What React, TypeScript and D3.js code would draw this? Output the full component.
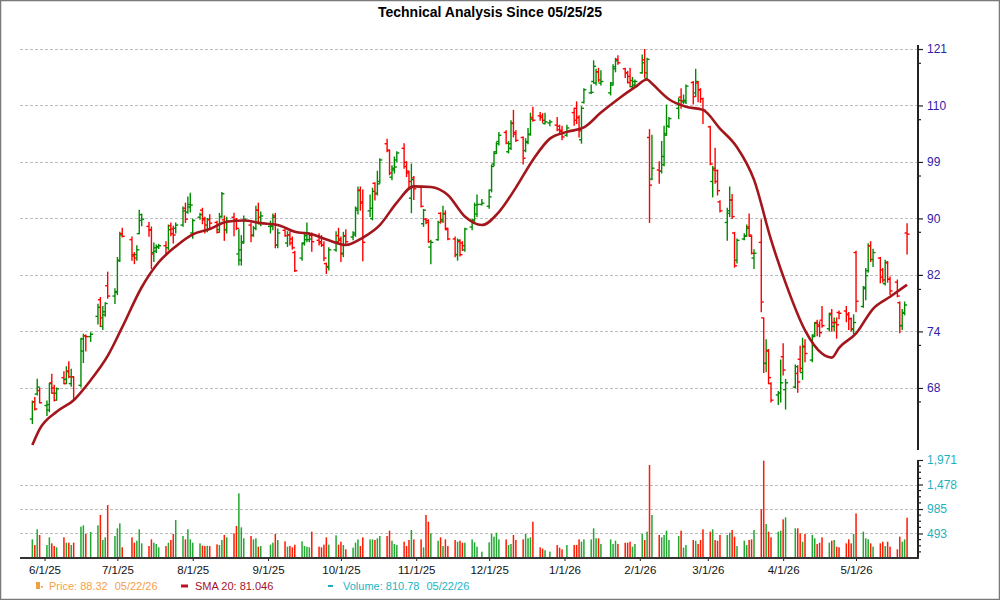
import { useEffect, useRef } from "react";
import * as d3 from "d3";

// trading calendar
const FIRST_DAY = "2025-05-27";
const LAST_DAY = "2026-05-22";
const HOLIDAYS = ["2025-06-19", "2025-07-04", "2025-09-01", "2025-11-27", "2025-12-25", "2026-01-01", "2026-01-19", "2026-02-16", "2026-04-03"];

// one line per week
const OPEN = [
  64.5, 66.4, 67.3, 67.7,
  66.0, 65.5, 68.6, 68.0, 67.4,
  69.2, 69.0, 70.0, 68.5, 69.3,
  68.3, 72.4, 74.3, 74.2,
  76.8, 79.0, 75.5, 77.0, 80.9,
  79.5, 80.0, 84.4, 88.4,
  87.5, 85.3, 85.3, 88.4, 90.4,
  89.5, 88.9, 85.6, 85.8, 86.4,
  86.6, 86.3, 89.6, 89.1, 89.2,
  89.7, 92.3, 91.7, 92.5, 88.5,
  90.9, 92.0, 90.7, 89.0, 90.5,
  90.1, 89.0, 91.0, 90.5, 89.0,
  90.9, 90.5, 85.4, 84.5, 87.2,
  89.7, 88.2, 89.2, 92.0, 89.9,
  89.5, 89.5, 91.1, 86.7,
  88.9, 87.0, 88.2, 87.6, 85.6,
  84.8, 87.0, 87.5, 87.5, 88.1,
  87.4, 87.2, 86.7, 84.0, 83.5,
  86.0, 88.1, 87.6, 85.5, 88.1,
  87.9, 88.2, 92.3, 95.2, 93.3,
  91.9, 90.7, 96.3, 94.7, 96.6,
  103.0, 101.8, 97.3, 98.5, 100.2,
  102.2, 99.8, 98.0, 93.9, 97.2,
  95.7, 89.9, 90.6, 90.4, 86.4,
  87.5, 91.5, 90.5, 91.5, 89.0,
  87.6, 85.3, 87.2, 87.0, 86.0,
  89.4, 90.5, 91.4, 92.9,
  92.6, 95.2, 99.5, 101.6, 103.4,
  105.0, 101.6, 102.2, 106.7, 105.0,
  104.1, 101.8, 103.2, 104.6, 107.7,
  108.0, 108.0, 106.6, 106.7,
  106.3, 106.1, 105.4, 104.5,
  108.6, 109.4, 107.7, 103.7, 110.5,
  112.3, 114.5, 114.2, 116.4, 114.2,
  112.3, 114.2, 117.0, 118.9,
  117.0, 116.2, 115.5, 113.5, 113.8,
  116.2, 118.8, 115.1, 104.1, 97.0,
  98.5, 98.3, 99.4, 104.8, 106.1,
  109.4, 111.5, 110.6, 110.6,
  114.3, 112.3, 114.2, 112.9, 111.2,
  106.0, 96.6, 98.5, 98.4, 93.3,
  90.1, 91.5, 93.6, 88.5, 84.5,
  87.6, 88.1, 89.4, 88.0, 84.8,
  87.1, 76.6, 70.9, 72.4, 68.5,
  67.2, 67.4, 71.7, 67.8,
  68.1, 69.7, 71.4, 69.8, 73.0,
  71.3, 74.4, 76.0, 75.7, 76.3,
  75.2, 77.2, 75.5, 76.0, 77.3,
  77.5, 77.1, 76.5, 75.1, 85.6,
  78.1, 80.5, 83.0, 86.6, 84.6,
  84.8, 83.1, 81.2, 84.1, 81.8,
  81.4, 78.6, 75.6, 77.2, 88.5,
];

const HIGH = [
  66.5, 66.9, 69.0, 68.0,
  66.5, 68.5, 69.6, 68.3, 68.0,
  69.9, 70.5, 71.1, 70.2, 69.3,
  74.0, 74.5, 74.4, 74.7,
  78.4, 79.3, 78.1, 78.6, 82.8,
  80.5, 84.9, 88.6, 89.2,
  87.9, 85.6, 86.6, 92.0, 91.4,
  90.1, 89.4, 87.0, 86.7, 86.8,
  87.2, 89.7, 90.0, 89.5, 90.0,
  92.5, 93.1, 94.1, 94.7, 90.6,
  91.5, 92.3, 90.9, 90.7, 91.3,
  90.3, 91.5, 94.8, 91.1, 90.9,
  91.5, 90.7, 89.0, 88.1, 91.1,
  90.0, 89.5, 92.6, 93.1, 91.7,
  90.3, 91.4, 91.5, 89.1,
  89.0, 88.7, 88.7, 87.9, 85.8,
  87.0, 88.6, 90.0, 88.5, 88.5,
  88.4, 88.1, 87.2, 84.1, 86.3,
  88.7, 89.2, 87.9, 88.6, 89.0,
  88.7, 92.5, 95.7, 95.7, 95.2,
  94.4, 95.5, 96.4, 98.3, 100.4,
  103.8, 101.9, 99.2, 100.7, 101.6,
  103.0, 99.9, 98.3, 99.5, 97.4,
  95.8, 92.1, 90.7, 90.5, 87.4,
  90.3, 91.6, 92.6, 91.9, 89.2,
  87.9, 87.6, 87.5, 87.2, 89.2,
  90.5, 93.1, 94.4, 93.7,
  95.2, 99.3, 101.6, 103.2, 105.0,
  105.3, 103.4, 107.1, 109.0, 105.3,
  104.2, 103.9, 105.7, 108.5, 109.6,
  108.6, 108.4, 108.5, 107.2,
  107.7, 106.3, 106.1, 106.3,
  109.4, 110.6, 108.0, 109.7, 113.1,
  113.8, 118.6, 116.9, 117.1, 116.6,
  114.3, 117.8, 119.1, 119.6,
  117.1, 116.5, 117.1, 115.3, 114.8,
  119.8, 120.9, 119.1, 105.5, 104.5,
  99.9, 103.4, 106.1, 110.0, 107.7,
  111.3, 113.1, 111.9, 113.8,
  114.5, 116.9, 114.5, 113.1, 111.3,
  106.1, 99.1, 102.2, 98.5, 93.5,
  92.3, 95.7, 94.5, 88.6, 87.6,
  88.4, 89.7, 91.4, 88.1, 86.0,
  90.5, 76.6, 73.8, 72.6, 68.6,
  67.6, 71.3, 73.3, 69.0,
  70.7, 70.6, 73.0, 74.0, 73.8,
  74.4, 76.0, 76.3, 76.1, 78.1,
  77.2, 77.7, 76.6, 76.6, 77.5,
  78.1, 77.3, 76.6, 77.0, 85.8,
  80.8, 83.3, 86.9, 87.2, 86.1,
  84.9, 83.3, 84.5, 84.3, 82.1,
  81.7, 78.7, 77.7, 78.7, 89.9,
];

const LOW = [
  64.0, 65.5, 67.2, 66.3,
  64.9, 65.3, 67.4, 66.5, 66.6,
  68.5, 68.5, 69.2, 68.2, 66.6,
  68.1, 71.0, 72.4, 73.6,
  75.8, 75.5, 75.1, 76.8, 79.2,
  78.5, 79.7, 84.3, 87.9,
  84.5, 84.0, 84.5, 88.4, 89.6,
  88.0, 83.3, 84.3, 85.6, 86.2,
  85.4, 86.0, 88.1, 87.0, 88.5,
  89.5, 90.1, 91.5, 91.7, 87.7,
  90.6, 89.9, 88.5, 88.7, 89.1,
  88.5, 88.6, 90.9, 87.4, 88.5,
  88.1, 89.0, 83.8, 83.8, 87.0,
  87.2, 88.0, 89.0, 89.9, 89.6,
  88.5, 89.0, 86.3, 86.3,
  88.0, 86.5, 86.7, 86.1, 82.9,
  84.5, 86.7, 87.2, 87.2, 85.8,
  86.7, 86.5, 84.4, 82.6, 83.1,
  85.8, 87.0, 84.3, 85.0, 86.7,
  87.5, 88.0, 91.4, 92.0, 84.4,
  91.0, 90.5, 93.6, 94.4, 96.3,
  101.6, 97.7, 96.9, 98.0, 99.9,
  98.8, 97.4, 95.7, 91.6, 93.7,
  92.5, 89.5, 89.9, 87.1, 84.0,
  87.4, 90.0, 90.1, 89.0, 87.5,
  85.0, 84.5, 85.1, 85.9, 85.8,
  89.0, 90.3, 91.0, 92.8,
  92.3, 94.9, 99.2, 101.3, 102.8,
  103.0, 101.4, 102.0, 104.2, 103.4,
  99.5, 101.6, 103.0, 104.5, 107.0,
  107.2, 106.8, 106.5, 106.2,
  105.3, 104.7, 103.7, 104.3,
  106.3, 106.6, 104.2, 103.1, 110.4,
  112.2, 114.2, 113.8, 114.5, 113.8,
  111.9, 113.8, 116.4, 117.9,
  115.3, 114.2, 113.5, 113.2, 113.5,
  116.1, 115.3, 114.9, 90.1, 96.9,
  96.3, 98.0, 99.2, 104.5, 105.9,
  107.5, 109.4, 110.3, 110.3,
  110.2, 111.6, 110.6, 110.5, 106.6,
  99.4, 94.1, 96.3, 94.4, 91.7,
  87.4, 91.0, 90.7, 83.5, 84.1,
  87.5, 88.0, 88.0, 85.4, 83.3,
  77.4, 69.8, 69.9, 68.5, 66.4,
  66.1, 66.4, 69.5, 65.6,
  68.0, 67.5, 69.9, 69.0, 71.1,
  71.1, 74.2, 74.3, 74.2, 75.4,
  74.9, 74.9, 74.9, 74.0, 76.5,
  76.1, 75.1, 74.9, 74.6, 77.4,
  78.0, 79.0, 82.8, 84.3, 83.6,
  81.3, 81.4, 81.0, 81.4, 79.7,
  79.4, 74.7, 75.1, 77.0, 85.4,
];

const CLOSE = [
  66.4, 65.6, 68.1, 66.3,
  66.1, 68.5, 67.4, 66.6, 67.9,
  68.5, 69.9, 69.3, 69.3, 66.7,
  73.9, 74.3, 74.2, 74.5,
  78.0, 76.6, 77.4, 78.5, 79.5,
  80.1, 84.5, 88.2, 88.0,
  85.1, 84.8, 86.0, 91.3, 90.6,
  89.0, 85.4, 86.3, 86.5, 86.6,
  85.5, 89.0, 88.4, 88.2, 89.7,
  91.9, 90.6, 92.9, 92.8, 90.4,
  91.3, 90.5, 89.7, 90.6, 90.0,
  88.6, 91.0, 94.6, 89.0, 90.3,
  90.3, 89.2, 86.0, 87.0, 90.6,
  88.1, 89.2, 92.0, 90.9, 91.1,
  89.7, 90.9, 86.7, 88.5,
  88.1, 88.2, 87.0, 86.3, 83.0,
  86.9, 88.1, 88.5, 87.6, 87.2,
  87.0, 86.7, 84.8, 83.6, 86.0,
  87.2, 87.4, 85.4, 88.0, 87.2,
  88.5, 92.0, 95.1, 93.1, 87.1,
  92.3, 95.0, 94.6, 96.2, 100.2,
  101.9, 98.0, 98.8, 99.0, 101.4,
  99.1, 98.3, 96.6, 96.9, 95.4,
  92.6, 92.0, 90.1, 87.2, 87.1,
  90.1, 90.3, 91.4, 89.2, 87.6,
  85.3, 87.4, 85.3, 86.6, 89.1,
  90.3, 92.8, 92.9, 93.1,
  94.1, 99.1, 101.3, 103.0, 104.5,
  103.1, 103.0, 106.6, 104.7, 103.6,
  100.5, 103.4, 104.7, 107.4, 107.2,
  107.7, 107.2, 106.9, 106.9,
  105.5, 105.2, 104.2, 105.8,
  107.2, 107.7, 105.3, 109.4, 112.9,
  112.4, 117.5, 116.4, 114.8, 114.5,
  113.8, 117.4, 118.6, 118.2,
  116.2, 114.3, 114.7, 114.5, 114.5,
  118.2, 116.2, 118.9, 96.0, 98.8,
  98.3, 100.8, 104.5, 106.1, 107.5,
  110.9, 110.8, 110.9, 113.6,
  111.6, 114.5, 112.9, 111.2, 109.1,
  99.5, 98.8, 96.6, 95.1, 91.9,
  91.9, 93.6, 91.0, 83.7, 87.4,
  88.0, 89.2, 88.2, 85.5, 85.5,
  78.7, 70.9, 72.5, 69.2, 66.6,
  67.4, 68.6, 70.1, 68.6,
  70.5, 68.7, 70.3, 72.9, 72.1,
  74.2, 75.9, 75.5, 74.7, 75.6,
  77.0, 76.0, 76.0, 75.7, 77.2,
  77.0, 76.5, 75.2, 76.0, 78.8,
  80.7, 82.3, 86.6, 84.6, 85.6,
  82.1, 81.7, 84.2, 81.8, 80.2,
  79.5, 75.6, 77.3, 78.3, 88.32,
];

const VOLUME = [
  375, 261, 577, 463,
  261, 416, 295, 241, 215,
  416, 308, 308, 261, 308,
  630, 657, 483, 523,
  657, 865, 362, 416, 1066,
  442, 597, 697, 215,
  416, 308, 348, 577, 295,
  241, 375, 308, 282, 215,
  241, 308, 362, 483, 764,
  442, 375, 577, 375, 308,
  295, 250, 241, 245, 240,
  275, 261, 362, 463, 416,
  496, 643, 1300, 617, 396,
  442, 375, 396, 228, 241,
  268, 308, 483, 362,
  335, 228, 241, 215, 268,
  335, 241, 228, 215, 529,
  228, 215, 268, 416, 268,
  456, 268, 328, 261, 175,
  208, 308, 375, 241, 416,
  375, 375, 362, 396, 442,
  442, 550, 348, 282, 261,
  328, 241, 362, 563, 375,
  375, 215, 865, 730, 496,
  348, 416, 241, 375, 241,
  362, 328, 348, 308, 308,
  375, 315, 228, 128,
  315, 483, 429, 509, 375,
  375, 261, 282, 463, 362,
  375, 483, 396, 416, 730,
  215, 188, 154, 128,
  261, 208, 175, 261,
  261, 261, 375, 328, 375,
  375, 597, 396, 396, 282,
  375, 282, 348, 282,
  308, 308, 328, 228, 282,
  483, 362, 530, 1870, 865,
  463, 416, 463, 550, 362,
  442, 550, 208, 261,
  362, 348, 282, 362, 577,
  530, 577, 362, 348, 463,
  463, 509, 563, 429, 241,
  348, 261, 362, 375, 563,
  979, 1957, 684, 530, 416,
  530, 550, 777, 818,
  597, 597, 496, 328, 483,
  463, 396, 282, 308, 416,
  308, 348, 362, 228, 215,
  295, 375, 295, 483, 898,
  530, 396, 375, 295, 228,
  295, 328, 241, 328, 228,
  175, 429, 328, 375, 810.78,
];

// SMA 20, roughly weekly
const SMA_DATES = [
  "2025-05-27", "2025-05-30", "2025-06-06", "2025-06-13", "2025-06-20", "2025-06-27", "2025-07-03", "2025-07-11",
  "2025-07-18", "2025-07-25", "2025-08-01", "2025-08-08", "2025-08-15", "2025-08-22", "2025-08-29", "2025-09-05",
  "2025-09-12", "2025-09-19", "2025-09-26", "2025-10-03", "2025-10-10", "2025-10-17", "2025-10-24", "2025-10-31",
  "2025-11-07", "2025-11-14", "2025-11-21", "2025-11-28", "2025-12-05", "2025-12-12", "2025-12-19", "2025-12-26",
  "2026-01-02", "2026-01-09", "2026-01-16", "2026-01-23", "2026-01-30", "2026-02-04", "2026-02-06", "2026-02-13",
  "2026-02-20", "2026-02-27", "2026-03-06", "2026-03-13", "2026-03-20", "2026-03-27", "2026-04-02", "2026-04-10",
  "2026-04-17", "2026-04-21", "2026-04-24", "2026-05-01", "2026-05-08", "2026-05-15", "2026-05-22",
];
const SMA_VALUES = [
  61.7, 63.4, 65.3, 66.6, 68.9, 71.8, 75.4, 80.7,
  84.2, 86.5, 88.3, 89.1, 90.2, 90.4, 90.0, 89.7,
  88.7, 88.3, 87.4, 86.7, 87.8, 89.7, 93.2, 95.8,
  95.7, 94.4, 91.0, 89.7, 91.7, 95.6, 100.2, 103.9,
  105.1, 105.9, 108.6, 111.1, 113.4, 114.9, 114.1, 111.1,
  109.7, 109.1, 105.7, 102.4, 96.9, 87.5, 81.3, 75.0,
  72.1, 71.6, 72.8, 74.6, 77.8, 79.4, 81.046,
];

const PRICE_TICKS = [68, 74.86, 82.41, 90.72, 99.86, 109.93, 121];
const PRICE_TICK_LABELS = ["68", "74", "82", "90", "99", "110", "121"];
const PRICE_MINOR_TICKS = [66.4, 73.1, 80.4, 88.6, 97.5, 107.3, 118.1];
const VOLUME_TICKS = [493, 985, 1478, 1971];
const VOLUME_TICK_LABELS = ["493", "985", "1,478", "1,971"];

const TITLE = "Technical Analysis Since 05/25/25";
const LAST_LABEL = "05/22/26";

const UP = "#008a00";
const DOWN = "#ff0000";
const VOL_UP = "#22a832";
const VOL_DOWN = "#ff1a00";
const SMA_COLOR = "#a3161b";
const FONT = "'Liberation Sans', Arial, sans-serif";

const parseDay = (s: string) => {
  const [y, m, d] = s.split("-").map(Number);
  return new Date(y, m - 1, d);
};

function tradingDays(): Date[] {
  const out: Date[] = [];
  const hol = new Set(HOLIDAYS);
  const key = d3.timeFormat("%Y-%m-%d");
  const end = parseDay(LAST_DAY);
  for (let d = parseDay(FIRST_DAY); d <= end; d = d3.timeDay.offset(d, 1)) {
    const wd = d.getDay();
    if (wd === 0 || wd === 6 || hol.has(key(d))) continue;
    out.push(d);
  }
  return out;
}

export default function App() {
  const ref = useRef<SVGSVGElement>(null);

  useEffect(() => {
    if (!ref.current) return;
    const W = 1000;
    const H = 600;
    const left = 20;
    const right = 918;
    const pTop = 45;
    const pBot = 450;
    const vTop = 460;
    const vBot = 558;

    const days = tradingDays();
    const n = Math.min(days.length, OPEN.length);
    const bars = d3.range(n).map((i) => ({
      date: days[i],
      o: OPEN[i],
      h: HIGH[i],
      l: LOW[i],
      c: CLOSE[i],
      v: VOLUME[i],
      up: CLOSE[i] >= OPEN[i],
    }));

    const svg = d3.select(ref.current);
    svg.selectAll("*").remove();
    svg.attr("width", W).attr("height", H).attr("viewBox", `0 0 ${W} ${H}`);

    svg.append("rect").attr("x", 0.5).attr("y", 0.5).attr("width", W - 1).attr("height", H - 1).attr("fill", "#fff").attr("stroke", "#7a7a7a").attr("stroke-width", 1.5);

    const x = d3.scaleTime().domain([new Date(2025, 4, 21, 22), new Date(2026, 4, 26, 12)]).range([left, right]);
    const y = d3.scaleLog().domain([61.19, 121.83]).range([pBot, pTop]);
    const yv = d3.scaleLinear().domain([0, 1971]).range([vBot, vTop]);

    svg
      .append("text")
      .attr("x", 490)
      .attr("y", 17)
      .attr("text-anchor", "middle")
      .attr("font-family", FONT)
      .attr("font-weight", "bold")
      .attr("font-size", 14)
      .text(TITLE);

    // grid
    const grid = svg.append("g").attr("stroke", "#bdbdbd").attr("stroke-dasharray", "3,2").attr("stroke-width", 1);
    PRICE_TICKS.forEach((t) => {
      const yy = Math.round(y(t)) + 0.5;
      grid.append("line").attr("x1", left).attr("x2", right).attr("y1", yy).attr("y2", yy);
    });
    VOLUME_TICKS.slice(0, 3).forEach((t) => {
      const yy = Math.round(yv(t)) + 0.5;
      grid.append("line").attr("x1", left).attr("x2", right).attr("y1", yy).attr("y2", yy);
    });

    // volume
    svg
      .append("g")
      .selectAll("rect")
      .data(bars)
      .join("rect")
      .attr("x", (d) => x(d.date) - 0.75)
      .attr("width", 1.5)
      .attr("y", (d) => yv(d.v))
      .attr("height", (d) => vBot - yv(d.v))
      .attr("fill", (d) => (d.up ? VOL_UP : VOL_DOWN));

    // OHLC bars
    const g = svg.append("g").attr("stroke-width", 1.4);
    bars.forEach((d) => {
      const cx = x(d.date);
      const col = d.up ? UP : DOWN;
      g.append("line").attr("x1", cx).attr("x2", cx).attr("y1", y(d.h) - 0.5).attr("y2", y(d.l) + 0.5).attr("stroke", col);
      g.append("line").attr("x1", cx - 2.5).attr("x2", cx).attr("y1", y(d.o)).attr("y2", y(d.o)).attr("stroke", col);
      g.append("line").attr("x1", cx).attr("x2", cx + 2.5).attr("y1", y(d.c)).attr("y2", y(d.c)).attr("stroke", col);
    });

    // SMA 20
    const sma = SMA_DATES.map((s, i) => ({ date: parseDay(s), v: SMA_VALUES[i] }));
    const line = d3
      .line<{ date: Date; v: number }>()
      .x((d) => x(d.date))
      .y((d) => y(d.v))
      .curve(d3.curveMonotoneX);
    svg.append("path").datum(sma).attr("d", line).attr("fill", "none").attr("stroke", SMA_COLOR).attr("stroke-width", 2.6).attr("stroke-linejoin", "round");

    // price axis
    const pAxis = svg
      .append("g")
      .attr("transform", `translate(${right},0)`)
      .call(
        d3
          .axisRight(y)
          .tickValues(PRICE_TICKS)
          .tickFormat((_, i) => PRICE_TICK_LABELS[i])
          .tickSize(5)
          .tickPadding(4)
      );
    pAxis.select(".domain").remove();
    pAxis.selectAll("text").attr("font-family", FONT).attr("font-size", 12).attr("fill", "#2e22a6");
    pAxis.selectAll(".tick line").attr("stroke", "#222").attr("stroke-width", 1.2);
    PRICE_MINOR_TICKS.forEach((t) => {
      svg.append("line").attr("x1", right).attr("x2", right + 3).attr("y1", y(t)).attr("y2", y(t)).attr("stroke", "#222").attr("stroke-width", 1.2);
    });
    svg.append("line").attr("x1", right).attr("x2", right).attr("y1", pTop).attr("y2", pBot).attr("stroke", "#222").attr("stroke-width", 2);

    // volume axis
    const vAxis = svg
      .append("g")
      .attr("transform", `translate(${right},0)`)
      .call(
        d3
          .axisRight(yv)
          .tickValues(VOLUME_TICKS)
          .tickFormat((_, i) => VOLUME_TICK_LABELS[i])
          .tickSize(5)
          .tickPadding(4)
      );
    vAxis.select(".domain").remove();
    vAxis.selectAll("text").attr("font-family", FONT).attr("font-size", 12).attr("fill", "#1fb0c0");
    vAxis.selectAll(".tick line").attr("stroke", "#222").attr("stroke-width", 1.2);
    d3.range(1, 16).forEach((k) => {
      if (k % 4 === 0) return;
      const yy = yv((k * 1971) / 16);
      svg.append("line").attr("x1", right).attr("x2", right + 3).attr("y1", yy).attr("y2", yy).attr("stroke", "#222").attr("stroke-width", 1.2);
    });
    svg.append("line").attr("x1", right).attr("x2", right).attr("y1", vTop).attr("y2", vBot).attr("stroke", "#222").attr("stroke-width", 2);

    // date axis
    const months = d3.timeMonth.range(new Date(2025, 5, 1), new Date(2026, 4, 2));
    const xAxis = svg
      .append("g")
      .attr("transform", `translate(0,${vBot})`)
      .call(d3.axisBottom(x).tickValues(months).tickFormat((d) => d3.timeFormat("%-m/%-d/%y")(d as Date)).tickSize(3).tickPadding(5));
    xAxis.select(".domain").remove();
    xAxis.selectAll("text").attr("font-family", FONT).attr("font-size", 11.5).attr("fill", "#111");
    xAxis.selectAll(".tick line").attr("stroke", "#222");
    svg.append("line").attr("x1", left).attr("x2", right + 1).attr("y1", vBot).attr("y2", vBot).attr("stroke", "#333").attr("stroke-width", 2);

    // legend
    const last = bars[bars.length - 1];
    const lg = svg.append("g").attr("font-family", FONT).attr("font-size", 11);
    const pair = (x0: number, first: string, color: string) => {
      const t = lg.append("text").attr("x", x0).attr("y", 590).attr("fill", color).text(first);
      const w = (t.node() as SVGTextElement).getComputedTextLength();
      lg.append("text").attr("x", x0 + w + 7).attr("y", 590).attr("fill", color).text(LAST_LABEL);
    };
    lg.append("rect").attr("x", 36).attr("y", 582).attr("width", 4).attr("height", 7).attr("fill", "#f0a040");
    lg.append("rect").attr("x", 41).attr("y", 586).attr("width", 2).attr("height", 1.5).attr("fill", "#f0a040");
    pair(49, `Price: ${last.c.toFixed(2)}`, "#f4a048");
    lg.append("line").attr("x1", 181).attr("x2", 188).attr("y1", 586).attr("y2", 586).attr("stroke", "#c01028").attr("stroke-width", 3);
    lg.append("text").attr("x", 195).attr("y", 590).attr("fill", "#a5102a").text(`SMA 20: ${SMA_VALUES[SMA_VALUES.length - 1].toFixed(3)}`);
    lg.append("line").attr("x1", 328).attr("x2", 333).attr("y1", 586).attr("y2", 586).attr("stroke", "#1fb0c0").attr("stroke-width", 2);
    pair(343, `Volume: ${last.v.toFixed(2)}`, "#22b4c4");
  }, []);

  return (
    <div>
      <style>{"body{margin:0}"}</style>
      <svg ref={ref} style={{ display: "block" }} />
    </div>
  );
}
